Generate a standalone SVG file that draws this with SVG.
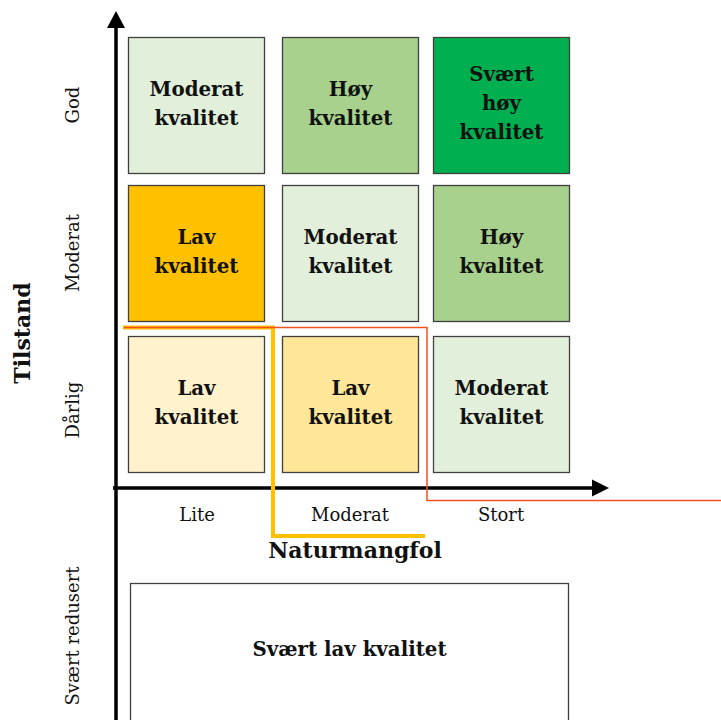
<svg xmlns="http://www.w3.org/2000/svg" width="721" height="720" viewBox="0 0 721 720">
<style>
.box{stroke:#404040;stroke-width:1.3}
.bt{font-family:"DejaVu Serif","Liberation Serif",serif;font-weight:bold;font-size:19.8px;fill:#111;text-anchor:middle}
.lab{font-family:"DejaVu Serif","Liberation Serif",serif;font-size:18px;fill:#111;text-anchor:middle}
.title{font-family:"DejaVu Serif","Liberation Serif",serif;font-weight:bold;font-size:22px;fill:#111;text-anchor:middle}
</style>
<rect width="721" height="720" fill="#fff"/>
<g id="n1"><rect class="box" x="128.5" y="37.5" width="136" height="136" fill="#e2efda"/><text class="bt" x="196.5" y="96">Moderat</text><text class="bt" x="196.5" y="125">kvalitet</text></g>
<g id="n2"><rect class="box" x="282.5" y="37.5" width="136" height="136" fill="#a9d18e"/><text class="bt" x="350.5" y="96">Høy</text><text class="bt" x="350.5" y="125">kvalitet</text></g>
<g id="n3"><rect class="box" x="433.5" y="37.5" width="136" height="136" fill="#00b050"/><text class="bt" x="501.5" y="81">Svært</text><text class="bt" x="501.5" y="110">høy</text><text class="bt" x="501.5" y="139">kvalitet</text></g>
<g id="n4"><rect class="box" x="128.5" y="185.5" width="136" height="136" fill="#ffc000"/><text class="bt" x="196.5" y="244">Lav</text><text class="bt" x="196.5" y="273">kvalitet</text></g>
<g id="n5"><rect class="box" x="282.5" y="185.5" width="136" height="136" fill="#e2efda"/><text class="bt" x="350.5" y="244">Moderat</text><text class="bt" x="350.5" y="273">kvalitet</text></g>
<g id="n6"><rect class="box" x="433.5" y="185.5" width="136" height="136" fill="#a9d18e"/><text class="bt" x="501.5" y="244">Høy</text><text class="bt" x="501.5" y="273">kvalitet</text></g>
<g id="n7"><rect class="box" x="128.5" y="336.5" width="136" height="136" fill="#fff2cc"/><text class="bt" x="196.5" y="395">Lav</text><text class="bt" x="196.5" y="424">kvalitet</text></g>
<g id="n8"><rect class="box" x="282.5" y="336.5" width="136" height="136" fill="#ffe699"/><text class="bt" x="350.5" y="395">Lav</text><text class="bt" x="350.5" y="424">kvalitet</text></g>
<g id="n9"><rect class="box" x="433.5" y="336.5" width="136" height="136" fill="#e2efda"/><text class="bt" x="501.5" y="395">Moderat</text><text class="bt" x="501.5" y="424">kvalitet</text></g>
<g id="n10"><rect class="box" x="130.5" y="583.5" width="438" height="140" fill="#fff"/><text class="bt" x="349.5" y="656">Svært lav kvalitet</text></g>
<g id="connectors">
<line x1="116" y1="720" x2="116" y2="26" stroke="#000" stroke-width="3.5"/>
<polygon points="116,11 107,28 125,28" fill="#000"/>
<line x1="113" y1="488" x2="594" y2="488" stroke="#000" stroke-width="3.5"/>
<polygon points="609,488 592,479.5 592,496.5" fill="#000"/>
<polyline points="123,327.5 273,327.5 273,536 425,536" fill="none" stroke="#ffc000" stroke-width="4"/>
<polyline points="124,327.5 427,327.5 427,500.5 721,500.5" fill="none" stroke="#f4511e" stroke-width="1.5"/>
</g>
<g id="labels">
<text class="lab" x="197" y="521">Lite</text>
<text class="lab" x="350" y="521">Moderat</text>
<text class="lab" x="501" y="521">Stort</text>
<text class="title" x="355" y="558">Naturmangfol</text>
<text class="title" transform="translate(30,333) rotate(-90)">Tilstand</text>
<text class="lab" transform="translate(79,105) rotate(-90)">God</text>
<text class="lab" transform="translate(79,253) rotate(-90)">Moderat</text>
<text class="lab" transform="translate(79,410) rotate(-90)">Dårlig</text>
<text class="lab" transform="translate(79,636) rotate(-90)">Svært redusert</text>
</g>
</svg>
